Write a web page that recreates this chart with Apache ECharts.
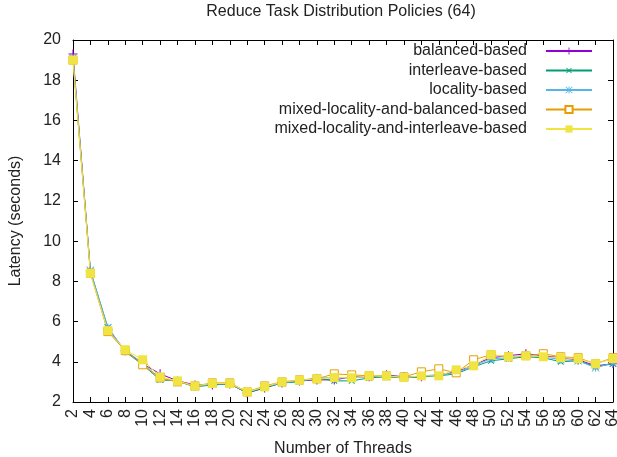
<!DOCTYPE html>
<html>
<head>
<meta charset="utf-8">
<script src="https://cdn.jsdelivr.net/npm/echarts@6/dist/echarts.min.js"></script>
<style>html,body{margin:0;padding:0;background:#fff}#c{width:617px;height:457px}</style>
</head>
<body>
<div id="c"></div>
<script>
const threads = [2,4,6,8,10,12,14,16,18,20,22,24,26,28,30,32,34,36,38,40,42,44,46,48,50,52,54,56,58,60,62,64];
const balanced = [19.3,8.5,5.6,4.55,3.9,3.4,3.05,2.85,2.85,2.9,2.45,2.7,2.95,3.05,3.1,3.1,3.25,3.25,3.35,3.25,3.25,3.35,3.5,3.85,4.2,4.3,4.4,4.3,4.2,4.1,3.8,3.9];
const interleave = [19.1,8.5,5.7,4.5,3.85,3.1,3.05,2.75,2.85,2.9,2.45,2.7,2.95,3.0,3.2,3.05,3.05,3.2,3.25,3.2,3.25,3.3,3.4,3.75,4.05,4.15,4.25,4.2,4.0,4.05,3.75,3.9];
const locality = [19.1,8.55,5.7,4.55,3.95,3.15,3.05,2.75,2.9,2.9,2.5,2.75,2.95,3.05,3.2,3.2,3.2,3.3,3.3,3.2,3.3,3.35,3.45,3.8,4.15,4.2,4.3,4.25,4.1,4.05,3.7,3.95];
const mixedBalanced = [19.0,8.4,5.5,4.55,3.85,3.2,3.0,2.8,2.95,2.95,2.5,2.8,3.0,3.1,3.15,3.4,3.35,3.3,3.3,3.25,3.5,3.65,3.45,4.1,4.35,4.25,4.3,4.4,4.25,4.2,3.9,4.2];
const mixedInterleave = [19.0,8.4,5.55,4.6,4.1,3.25,3.05,2.8,2.92,2.92,2.5,2.75,3.0,3.08,3.15,3.22,3.2,3.3,3.3,3.22,3.3,3.3,3.6,3.8,4.35,4.25,4.3,4.25,4.2,4.15,3.9,4.15];
const yTicks = [2,4,6,8,10,12,14,16,18,20];

const FONT = 'Liberation Sans';
const FS = 16;
const plusPath = 'path://M4.4,0h1.2v10h-1.2z M0,4.4h10v1.2h-10z';
const starPath = 'path://M4.4,0h1.2v10h-1.2z M0,4.4h10v1.2h-10z M0.8,0 L10,9.2 L9.2,10 L0,0.8z M9.2,0 L10,0.8 L0.8,10 L0,9.2z';

function pair(arr){ return threads.map((t,i)=>[t,arr[i]]); }
function mk(name, data, color, symbol, size, rotate, fill){
  return {
    name, type:'line', data: pair(data),
    symbol, symbolSize: size, symbolRotate: rotate || 0,
    showAllSymbol: true,
    lineStyle:{color, width:1},
    itemStyle:{color: fill || color, borderColor: color, borderWidth: fill ? 1 : 0},
    emphasis:{disabled:true},
    z: 2
  };
}

const chart = echarts.init(document.getElementById('c'), null, {renderer:'canvas'});
chart.setOption({
  animation:false,
  backgroundColor:'#fff',
  textStyle:{fontFamily:FONT},
  title:{text:'Reduce Task Distribution Policies (64)', left:341, top:4, textAlign:'center', padding:0,
    textStyle:{fontFamily:FONT, fontSize:FS, fontWeight:'normal', color:'#222'}},
  legend:{
    orient:'vertical', right:24, top:43, align:'right', padding:0,
    itemWidth:46, itemHeight:9, itemGap:3.5,
    textStyle:{fontFamily:FONT, fontSize:FS, color:'#222', padding:[0,14,0,0]},
    data:['balanced-based','interleave-based','locality-based','mixed-locality-and-balanced-based','mixed-locality-and-interleave-based']
  },
  grid:{left:73, right:4, top:40, bottom:55, containLabel:false, outerBoundsMode:'none'},
  xAxis:[{
    type:'value', min:2, max:64, interval:2,
    name:'Number of Threads', nameLocation:'middle', nameGap:39,
    nameTextStyle:{fontFamily:FONT, fontSize:FS, color:'#222'},
    axisLine:{lineStyle:{color:'#000', width:1}},
    axisTick:{inside:true, length:5, lineStyle:{color:'#000'}},
    axisLabel:{rotate:90, fontFamily:FONT, fontSize:FS, color:'#222', margin:7},
    splitLine:{show:false}
  },{
    type:'value', min:2, max:64, interval:2, position:'top',
    axisLine:{lineStyle:{color:'#000', width:1}},
    axisTick:{inside:true, length:5, lineStyle:{color:'#000'}},
    axisLabel:{show:false}, splitLine:{show:false}
  }],
  yAxis:[{
    type:'value', min:2, max:20, interval:2,
    name:'Latency (seconds)', nameLocation:'middle', nameGap:49,
    nameTextStyle:{fontFamily:FONT, fontSize:FS, color:'#222'},
    axisLine:{show:true, lineStyle:{color:'#000', width:1}},
    axisTick:{show:true, inside:true, length:5, lineStyle:{color:'#000'}},
    axisLabel:{fontFamily:FONT, fontSize:FS, color:'#222', margin:12,
      formatter: v => yTicks.includes(v) ? String(v) : ''},
    splitLine:{show:false}
  },{
    type:'value', min:2, max:20, interval:2, position:'right',
    axisLine:{show:true, lineStyle:{color:'#000', width:1}},
    axisTick:{show:true, inside:true, length:5, lineStyle:{color:'#000'}},
    axisLabel:{show:false}, splitLine:{show:false}
  }],
  series:[
    mk('balanced-based', balanced, '#9400d3', plusPath, 9),
    mk('interleave-based', interleave, '#009e73', plusPath, 8, 45),
    mk('locality-based', locality, '#56b4e9', starPath, 8),
    mk('mixed-locality-and-balanced-based', mixedBalanced, '#e69f00', 'rect', 8, 0, '#ffffff'),
    mk('mixed-locality-and-interleave-based', mixedInterleave, '#f0e442', 'rect', 9)
  ]
});
</script>
</body>
</html>
